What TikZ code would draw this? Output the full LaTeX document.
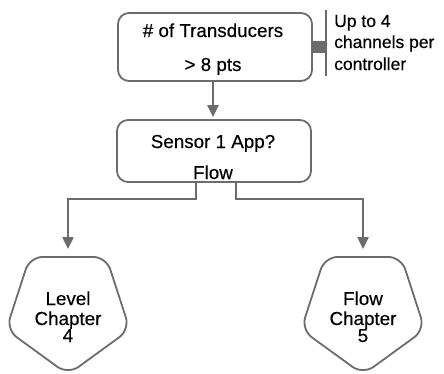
\documentclass[tikz,border=0pt]{standalone}
\usepackage{fontspec}
\setmainfont{Liberation Sans}
\newfontfamily\medfont{Liberation Sans}[FakeBold=0.4]
\usetikzlibrary{shapes.geometric,arrows.meta}
\definecolor{lin}{RGB}{108,108,110}
\tikzset{
  box/.style={draw=lin, line width=1.8pt, rounded corners=11pt, minimum width=194pt, minimum height=68pt, inner sep=0pt},
  penta/.style={draw=lin, line width=1.8pt, regular polygon, regular polygon sides=5, shape border rotate=180, minimum size=130pt, inner sep=0pt, rounded corners=13pt},
  txt/.style={anchor=base, inner sep=0pt, font=\medfont\fontsize{18.8}{18.8}\selectfont},
  note/.style={anchor=base west, inner sep=0pt, font=\medfont\fontsize{17.5}{17.5}\selectfont},
  conn/.style={draw=lin, line width=2.4pt, -{Triangle[length=12pt,width=11pt]}},
  bar/.style={draw=lin, line width=12pt},
  rule/.style={draw=lin, line width=2pt}
}
\begin{document}
\begin{tikzpicture}[x=1pt,y=-1pt]
\useasboundingbox (0,0) rectangle (444,373);
% boxes
\node[box] (b1) at (215,47) {};
\node[box, minimum height=62pt] (b2) at (214,151) {};
\node[txt] (t1a) at (213,37) {\# of Transducers};
\node[txt] (t1b) at (213,71) {> 8 pts};
\node[txt] (t2a) at (213,148) {Sensor 1 App?};
\node[txt] (t2b) at (213,179) {Flow};
% annotation
\coordinate (rt) at (326,10);
\coordinate (rb) at (326,76);
\draw[rule] (rt) -- (rb);
\coordinate (bend) at (326,47);
\draw[bar] (b1.east) -- (bend);
\node[note] (n1) at (334,27) {Up to 4};
\node[note] (n2) at (334,48) {channels per};
\node[note] (n3) at (334,70) {controller};
% pentagons
\node[penta] (p1) at (68,309.5) {};
\node[penta] (p2) at (363,309.5) {};
\node[txt] (l1) at (68,305) {Level};
\node[txt] (l2) at (68,325) {Chapter};
\node[txt] (l3) at (68,342) {4};
\node[txt] (f1) at (363,305) {Flow};
\node[txt] (f2) at (363,325) {Chapter};
\node[txt] (f3) at (363,342) {5};
% connectors
\coordinate (tt) at (213,81);
\draw[conn, shorten >=2pt] (tt) -- (tt |- b2.north);
\coordinate (sl) at (196,182);
\coordinate (sr) at (236,182);
\draw[conn, shorten >=7pt] (sl) |- (68,199) -- (p1.north);
\draw[conn, shorten >=7pt] (sr) |- (363,199) -- (p2.north);
\end{tikzpicture}
\end{document}
